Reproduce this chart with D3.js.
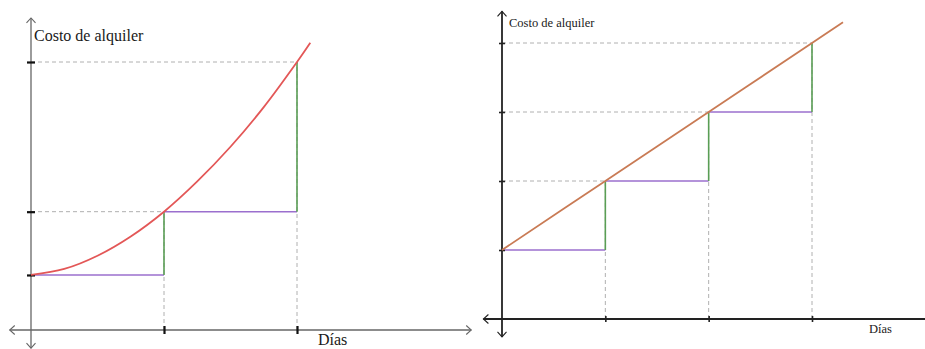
<!DOCTYPE html>
<html>
<head>
<meta charset="utf-8">
<script src="https://cdn.jsdelivr.net/npm/d3@7"></script>
<style>
  body { margin: 0; background: #fff; }
  text { font-family: "Liberation Serif", "Times New Roman", serif; }
</style>
</head>
<body>
<div id="chart"></div>
<script>
// left panel: cost grows like a curve
const leftDays = [1, 2];
const leftCostTicks = [1, 2.15, 4.87];
const leftCurve = [[0, 1], [0.25, 1.11], [0.5, 1.35], [0.75, 1.7], [1, 2.15], [1.25, 2.7],
                   [1.5, 3.33], [1.75, 4.05], [2, 4.87], [2.1, 5.22]];
const leftSteps = [[0, 1], [1, 1], [1, 2.15], [2, 2.15], [2, 4.87]];

// right panel: cost grows on a straight line
const rightDays = [1, 2, 3];
const rightCostTicks = [1, 2, 3, 4];
const rightLine = [[0, 1], [1, 2], [2, 3], [3, 4], [3.3, 4.3]];
const rightSteps = [[0, 1], [1, 1], [1, 2], [2, 2], [2, 3], [3, 3], [3, 4]];

const yLabel = "Costo de alquiler";
const xLabel = "Días";

const width = 925, height = 349;

const svg = d3.select('#chart')
  .append('svg')
  .attr('width', width)
  .attr('height', height);

const defs = svg.append('defs');
function marker(id, color, w) {
  defs.append('marker')
    .attr('id', id)
    .attr('viewBox', '-7 -6 9 12')
    .attr('markerUnits', 'userSpaceOnUse')
    .attr('markerWidth', 9)
    .attr('markerHeight', 12)
    .attr('refX', 0)
    .attr('refY', 0)
    .attr('orient', 'auto-start-reverse')
    .append('path')
    .attr('d', 'M-5,-4.5L0,0L-5,4.5')
    .attr('fill', 'none')
    .attr('stroke', color)
    .attr('stroke-width', w);
}
marker('arrL', '#666', 1.1);
marker('arrR', '#222', 1.1);

const panels = [
  {
    days: leftDays, costs: leftCostTicks, curve: leftCurve, steps: leftSteps,
    x: d3.scaleLinear().domain([0, 2]).range([31, 297]),
    y: d3.scaleLinear().domain([0, 4.87]).range([330, 62]),
    xExt: [-0.16, 3.31], yExt: [-0.33, 5.67],
    curveColor: '#e35757', axisColor: '#666', axisWidth: 1.3, arrow: 'arrL',
    tickLen: 8, tickWidth: 2.2, tickColor: '#111',
    font: 16, yLab: [34, 41], xLab: [318, 345]
  },
  {
    days: rightDays, costs: rightCostTicks, curve: rightLine, steps: rightSteps,
    x: d3.scaleLinear().domain([0, 3]).range([502, 812]),
    y: d3.scaleLinear().domain([0, 4]).range([319, 43]),
    xExt: [-0.18, 4.2], yExt: [-0.26, 4.46],
    curveColor: '#c97b55', axisColor: '#222', axisWidth: 1.8, arrow: 'arrR',
    tickLen: 6, tickWidth: 1.6, tickColor: '#222',
    font: 12.5, yLab: [509, 27], xLab: [869, 333]
  }
];

const purple = '#9b6fce', green = '#5a9e55', dash = '#b0b0b0';

panels.forEach(p => {
  const g = svg.append('g');
  const {x, y} = p;

  // dashed guides
  const hiAt = d => d3.max(p.steps.filter(s => s[0] === d), s => s[1]);
  g.selectAll('.vguide').data(p.days).join('line')
    .attr('x1', d => x(d)).attr('x2', d => x(d))
    .attr('y1', y(0)).attr('y2', d => y(hiAt(d)))
    .attr('stroke', dash).attr('stroke-width', 1).attr('stroke-dasharray', '4,3');
  g.selectAll('.hguide').data(p.costs.slice(1)).join('line')
    .attr('x1', x(0)).attr('x2', d => x(p.steps.find(s => s[1] === d)[0]))
    .attr('y1', d => y(d)).attr('y2', d => y(d))
    .attr('stroke', dash).attr('stroke-width', 1).attr('stroke-dasharray', '4,3');

  // step segments
  const segs = d3.pairs(p.steps);
  g.selectAll('.seg').data(segs).join('line')
    .attr('x1', d => x(d[0][0])).attr('y1', d => y(d[0][1]))
    .attr('x2', d => x(d[1][0])).attr('y2', d => y(d[1][1]))
    .attr('stroke', d => d[0][1] === d[1][1] ? purple : green)
    .attr('stroke-width', 1.6);

  // axes lines with open arrows
  g.append('line')
    .attr('x1', x(p.xExt[0])).attr('x2', x(p.xExt[1]))
    .attr('y1', y(0)).attr('y2', y(0))
    .attr('stroke', p.axisColor).attr('stroke-width', p.axisWidth)
    .attr('marker-start', `url(#${p.arrow})`).attr('marker-end', `url(#${p.arrow})`);
  g.append('line')
    .attr('x1', x(0)).attr('x2', x(0))
    .attr('y1', y(p.yExt[0])).attr('y2', y(p.yExt[1]))
    .attr('stroke', p.axisColor).attr('stroke-width', p.axisWidth)
    .attr('marker-start', `url(#${p.arrow})`).attr('marker-end', `url(#${p.arrow})`);

  // ticks
  const half = p.tickLen / 2;
  const xa = g.append('g')
    .attr('transform', `translate(0,${y(0) - half})`)
    .call(d3.axisBottom(x).tickValues(p.days).tickSize(p.tickLen).tickFormat(''));
  const ya = g.append('g')
    .attr('transform', `translate(${x(0) + half},0)`)
    .call(d3.axisLeft(y).tickValues(p.costs).tickSize(p.tickLen).tickFormat(''));
  [xa, ya].forEach(a => {
    a.select('.domain').remove();
    a.selectAll('.tick line').attr('stroke', p.tickColor).attr('stroke-width', p.tickWidth);
  });

  // cost curve / line
  g.append('path')
    .datum(p.curve)
    .attr('fill', 'none')
    .attr('stroke', p.curveColor)
    .attr('stroke-width', 1.8)
    .attr('d', d3.line().x(d => x(d[0])).y(d => y(d[1])).curve(d3.curveCatmullRom));

  // labels
  g.append('text')
    .attr('x', p.yLab[0]).attr('y', p.yLab[1])
    .attr('font-size', p.font).attr('fill', '#1a1a1a')
    .text(yLabel);
  g.append('text')
    .attr('x', p.xLab[0]).attr('y', p.xLab[1])
    .attr('font-size', p.font).attr('fill', '#1a1a1a')
    .text(xLabel);
});
</script>
</body>
</html>
